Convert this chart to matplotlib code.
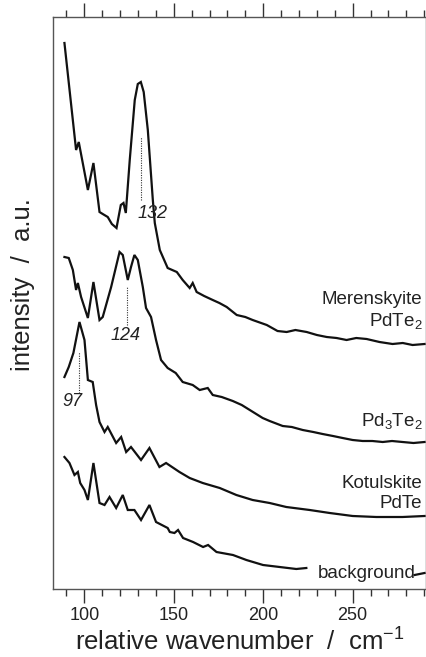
import matplotlib
import matplotlib.pyplot as plt
from matplotlib.ticker import MultipleLocator

matplotlib.use('Agg')

plt.rcParams['font.family'] = ['Liberation Sans', 'DejaVu Sans']
plt.rcParams['mathtext.fontset'] = 'custom'
plt.rcParams['mathtext.rm'] = 'Liberation Sans'

# Raman spectra (wavenumber in cm-1, intensity in a.u.)
meren_x = [88.9, 95.4, 96.9, 102.0, 105.1, 108.5, 110.3, 113.1, 115.4, 118.0,
           120.4, 121.9, 123.2, 125.4, 128.2, 129.9, 131.6, 133.2, 135.5, 138.3,
           139.4, 142.2, 146.6, 151.7, 155.0, 158.9, 160.6, 162.8, 167.0, 171.8,
           175.5, 179.6, 185.2, 190.0, 194.1, 202.0, 208.0, 213.1, 218.0, 224.3,
           230.0, 235.5, 241.0, 246.6, 252.0, 257.8, 265.0, 272.3, 278.0, 283.5,
           290.2]
meren_y = [546, 439, 447, 399, 426, 377, 375, 372, 365, 361,
           384, 386, 376, 429, 489, 505, 507, 497, 459, 389,
           366, 339, 321, 317, 309, 301, 306, 297, 293, 289,
           286, 282, 274, 272, 269, 264, 258, 257, 259, 257,
           254, 252, 251, 249, 251, 250, 247, 245, 246, 244,
           245]

pd3te2_x = [88.9, 91.3, 93.6, 95.4, 96.4, 98.2, 102.0, 105.1, 108.5, 110.3,
            115.0, 119.7, 121.5, 124.3, 126.1, 128.0, 129.9, 132.7, 134.5, 137.3,
            140.1, 142.9, 146.6, 151.1, 155.0, 160.6, 164.5, 169.0, 171.8, 176.8,
            183.0, 188.0, 192.5, 199.7, 203.6, 210.9, 216.0, 222.1, 228.0, 233.2,
            239.0, 244.4, 250.0, 255.6, 261.0, 266.8, 272.0, 277.9, 284.0, 290.2]
pd3te2_y = [332, 331, 319, 299, 306, 292, 271, 307, 269, 272,
            302, 337, 334, 309, 322, 334, 329, 302, 281, 272,
            249, 229, 221, 216, 207, 204, 199, 201, 194, 192,
            188, 184, 179, 171, 168, 163, 162, 159, 157, 155,
            153, 151, 149, 148, 148, 147, 148, 147, 146, 147]

kotul_x = [88.9, 91.3, 93.9, 97.3, 100.1, 102.0, 104.7, 106.6, 108.5, 111.3,
           113.1, 117.8, 120.6, 123.4, 126.1, 131.7, 136.4, 142.0, 145.7, 153.2,
           158.9, 166.2, 175.7, 185.0, 194.1, 203.6, 212.9, 226.0, 237.2, 250.0,
           263.2, 277.9, 290.2]
kotul_y = [212, 222, 236, 267, 249, 209, 207, 184, 167, 157,
           162, 146, 152, 137, 142, 129, 141, 122, 126, 117,
           111, 106, 101, 94, 89, 86, 82, 79, 76, 73,
           72, 72, 73]

bkg_x = [88.9, 91.7, 94.5, 96.4, 97.7, 100.1, 102.0, 105.1, 108.5, 111.3,
         114.1, 117.8, 121.5, 124.3, 128.0, 131.7, 136.4, 140.1, 146.6, 147.8,
         150.4, 152.4, 155.2, 160.8, 166.4, 169.2, 173.9, 183.1, 190.6, 199.9,
         209.2, 218.5, 224.1]
bkg_y = [132, 126, 114, 117, 106, 99, 89, 126, 86, 84,
         92, 81, 94, 79, 79, 69, 84, 67, 61, 57,
         56, 59, 51, 47, 42, 44, 37, 34, 29, 24,
         22, 20, 21]
bkg_tail_x = [284.6, 290.2]
bkg_tail_y = [14, 16]

# peak markers: (wavenumber, top, bottom, label)
peaks = [(131.6, 452, 389, '132'), (123.7, 302, 264, '124'), (96.9, 237, 196, '97')]
peak_label_pos = [(130.0, 376), (114.5, 253), (88.0, 187)]

labels = [('Merenskyite', 289), ('PdTe$_2$', 267), ('Pd$_3$Te$_2$', 167),
          ('Kotulskite', 106), ('PdTe', 86)]

fig = plt.figure(figsize=(4.27, 6.57), dpi=100)
ax = fig.add_axes([53 / 427, 68 / 657, 373 / 427, 572 / 657])

lc = '#111111'
for xs, ys in [(meren_x, meren_y), (pd3te2_x, pd3te2_y), (kotul_x, kotul_y),
               (bkg_x, bkg_y), (bkg_tail_x, bkg_tail_y)]:
    ax.plot(xs, ys, color=lc, lw=1.6, solid_joinstyle='miter')

for (px, top, bot, txt), (tx, ty) in zip(peaks, peak_label_pos):
    ax.plot([px, px], [bot, top], color='#333333', lw=0.8, ls=(0, (1, 1.2)))
    ax.text(tx, ty, txt, fontsize=13, style='italic', color='#222222',
            ha='left', va='center')

for txt, yv in labels:
    ax.text(289, yv, txt, fontsize=13.5, color='#222222', ha='right', va='center')
ax.text(285, 15, 'background', fontsize=13.5, color='#222222', ha='right', va='center')

ax.set_xlim(82.5, 291)
ax.set_ylim(0, 572)
ax.set_yticks([])
ax.xaxis.set_major_locator(MultipleLocator(50))
ax.xaxis.set_minor_locator(MultipleLocator(10))
ax.tick_params(axis='x', which='both', direction='out', top=True, bottom=True,
               labeltop=False, colors='#333333', labelcolor='#222222',
               labelsize=13)
ax.tick_params(axis='x', which='major', length=10, width=1, pad=3)
ax.tick_params(axis='x', which='minor', length=5, width=1)
for spine in ax.spines.values():
    spine.set_linewidth(1)
    spine.set_color('#555555')

ax.set_xlabel('relative wavenumber  /  cm$^{-1}$', fontsize=18.5,
              color='#222222', labelpad=2)
fig.text(23 / 427, 1 - 285 / 657, 'intensity  /  a.u.', fontsize=18.5,
         color='#222222', rotation=90, ha='center', va='center')

fig.savefig('out.png', dpi=100)
